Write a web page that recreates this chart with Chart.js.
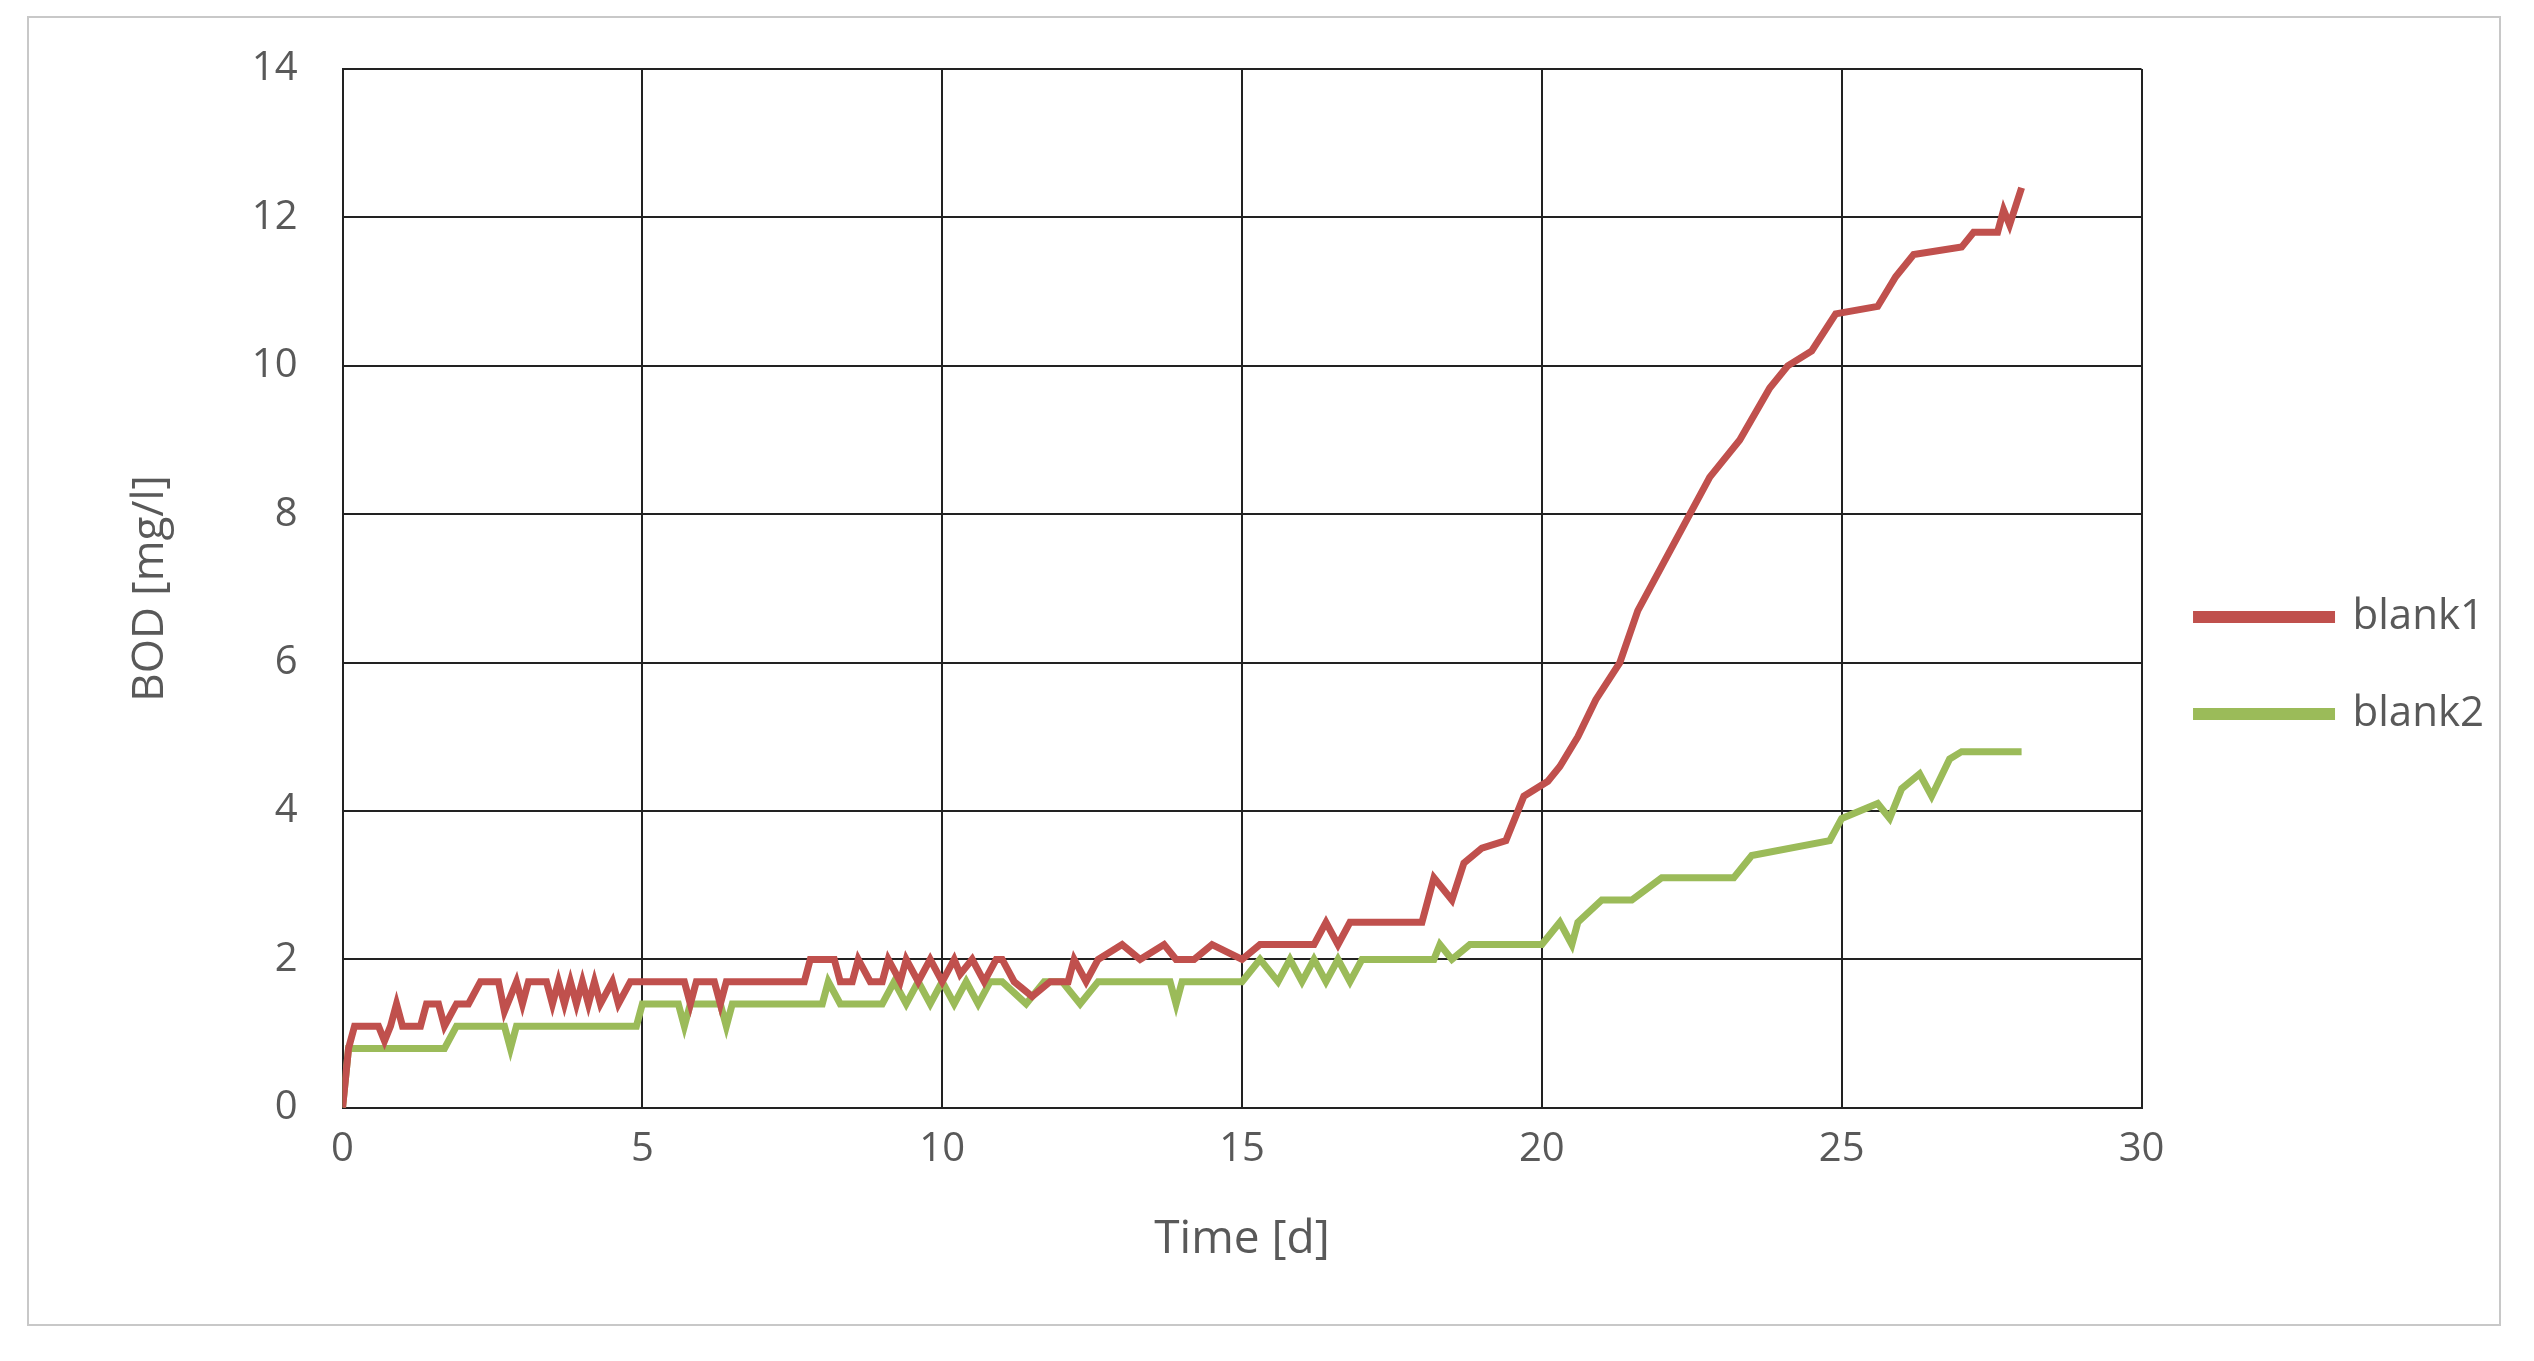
<!DOCTYPE html>
<html><head><meta charset="utf-8">
<script src="https://cdn.jsdelivr.net/npm/chart.js@4"></script>
<style>
html,body{margin:0;background:#fff;}
#box{position:absolute;left:27px;top:16px;width:2474px;height:1310px;border:2px solid #c8c8c8;box-sizing:border-box;}
#c{position:absolute;left:0;top:0;}
</style></head><body>
<div id="box"></div>
<canvas id="c" width="2534" height="1361"></canvas>
<script>
const seriesNames = ["blank1","blank2"];
const blank1X = [0,0.1,0.2,0.6,0.7,0.8,0.9,1.0,1.3,1.4,1.6,1.7,1.9,2.1,2.3,2.6,2.7,2.9,3.0,3.1,3.4,3.5,3.6,3.7,3.8,3.9,4.0,4.1,4.2,4.3,4.5,4.6,4.8,5.0,5.7,5.8,5.9,6.2,6.3,6.4,7.7,7.8,8.2,8.3,8.5,8.6,8.8,9.0,9.1,9.3,9.4,9.6,9.8,10.0,10.2,10.3,10.5,10.7,10.9,11.0,11.2,11.5,11.8,12.1,12.2,12.4,12.6,13.0,13.3,13.7,13.9,14.2,14.5,15.0,15.3,16.2,16.4,16.6,16.8,18.0,18.2,18.5,18.7,19.0,19.4,19.7,20.1,20.3,20.6,20.9,21.3,21.6,22.0,22.4,22.8,23.3,23.8,24.1,24.5,24.9,25.6,25.9,26.2,27.0,27.2,27.6,27.7,27.8,28.0];
const blank1Y = [0,0.8,1.1,1.1,0.9,1.1,1.4,1.1,1.1,1.4,1.4,1.1,1.4,1.4,1.7,1.7,1.3,1.7,1.4,1.7,1.7,1.4,1.7,1.4,1.7,1.4,1.7,1.4,1.7,1.4,1.7,1.4,1.7,1.7,1.7,1.4,1.7,1.7,1.4,1.7,1.7,2.0,2.0,1.7,1.7,2.0,1.7,1.7,2.0,1.7,2.0,1.7,2.0,1.7,2.0,1.8,2.0,1.7,2.0,2.0,1.7,1.5,1.7,1.7,2.0,1.7,2.0,2.2,2.0,2.2,2.0,2.0,2.2,2.0,2.2,2.2,2.5,2.2,2.5,2.5,3.1,2.8,3.3,3.5,3.6,4.2,4.4,4.6,5.0,5.5,6.0,6.7,7.3,7.9,8.5,9.0,9.7,10.0,10.2,10.7,10.8,11.2,11.5,11.6,11.8,11.8,12.1,11.9,12.4];
const blank2X = [0,0.1,1.7,1.9,2.7,2.8,2.9,4.9,5.0,5.6,5.7,5.8,6.3,6.4,6.5,8.0,8.1,8.3,9.0,9.2,9.4,9.6,9.8,10.0,10.2,10.4,10.6,10.8,11.0,11.4,11.7,12.0,12.3,12.6,13.0,13.8,13.9,14.0,15.0,15.3,15.6,15.8,16.0,16.2,16.4,16.6,16.8,17.0,18.2,18.3,18.5,18.8,20.0,20.3,20.5,20.6,21.0,21.5,22.0,23.2,23.5,24.8,25.0,25.6,25.8,26.0,26.3,26.5,26.8,27.0,27.2,28.0];
const blank2Y = [0,0.8,0.8,1.1,1.1,0.8,1.1,1.1,1.4,1.4,1.1,1.4,1.4,1.1,1.4,1.4,1.7,1.4,1.4,1.7,1.4,1.7,1.4,1.7,1.4,1.7,1.4,1.7,1.7,1.4,1.7,1.7,1.4,1.7,1.7,1.7,1.4,1.7,1.7,2.0,1.7,2.0,1.7,2.0,1.7,2.0,1.7,2.0,2.0,2.2,2.0,2.2,2.2,2.5,2.2,2.5,2.8,2.8,3.1,3.1,3.4,3.6,3.9,4.1,3.9,4.3,4.5,4.2,4.7,4.8,4.8,4.8];
const xTicks = [0,5,10,15,20,25,30];
const yTicks = [0,2,4,6,8,10,12,14];
const pts = (xs, ys) => xs.map((x, i) => ({x, y: ys[i]}));
const ctx = document.getElementById('c');
new Chart(ctx, {
  type: 'scatter',
  data: { datasets: [
    {label: seriesNames[0], data: pts(blank1X, blank1Y), showLine: true, borderColor: '#c0504d', backgroundColor: '#c0504d', borderWidth: 7, pointRadius: 0},
    {label: seriesNames[1], data: pts(blank2X, blank2Y), showLine: true, borderColor: '#9bbb59', backgroundColor: '#9bbb59', borderWidth: 7, pointRadius: 0}
  ]},
  options: {
    responsive: false, animation: false, devicePixelRatio: 1,
    layout: {padding: {left: 120, top: 60, right: 40, bottom: 90}},
    plugins: {
      legend: {position: 'right', align: 'center',
        labels: {boxWidth: 135, boxHeight: 5, font: {family: 'Open Sans', size: 42}, color: '#595959', padding: 55}},
      tooltip: {enabled: false}
    },
    scales: {
      x: {type: 'linear', min: 0, max: 30,
        afterBuildTicks: s => { s.ticks = xTicks.map(v => ({value: v})); },
        grid: {color: '#222', lineWidth: 2, drawTicks: false},
        border: {color: '#222', width: 2},
        ticks: {font: {family: 'Open Sans', size: 40}, color: '#595959', padding: 18},
        title: {display: true, text: 'Time [d]', font: {family: 'Open Sans', size: 46}, color: '#595959', padding: {top: 20}}
      },
      y: {min: 0, max: 14,
        afterBuildTicks: s => { s.ticks = yTicks.map(v => ({value: v})); },
        grid: {color: '#222', lineWidth: 2, drawTicks: false},
        border: {color: '#222', width: 2},
        ticks: {font: {family: 'Open Sans', size: 40}, color: '#595959', padding: 45},
        title: {display: true, text: 'BOD [mg/l]', font: {family: 'Open Sans', size: 44}, color: '#595959', padding: {bottom: 30}}
      }
    }
  }
});
</script>
</body></html>
